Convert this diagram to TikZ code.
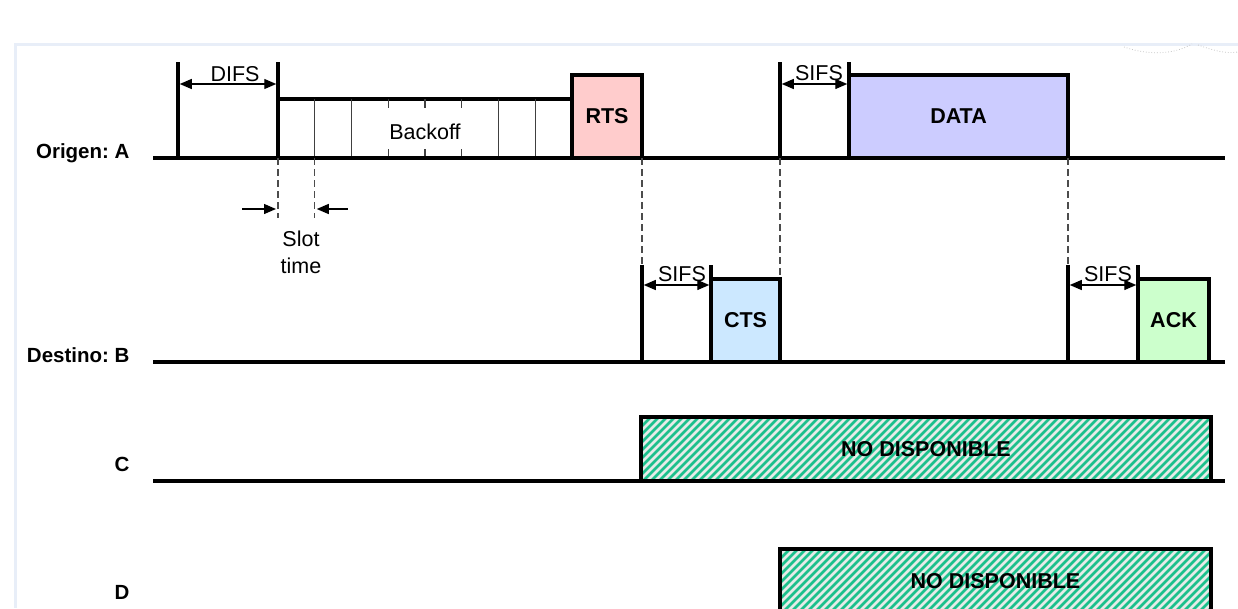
\documentclass[tikz,border=0pt]{standalone}
\usepackage{fontspec}
\setmainfont{Liberation Sans}
\usetikzlibrary{arrows.meta,positioning,calc}
\frenchspacing

\definecolor{rtsfill}{HTML}{FFCCCC}
\definecolor{datafill}{HTML}{CCCCFF}
\definecolor{ctsfill}{HTML}{CCE8FF}
\definecolor{ackfill}{HTML}{CCFFCC}
\definecolor{hatchgreen}{HTML}{1CC08C}
\definecolor{hatchbg}{HTML}{E6EBE8}
\definecolor{framegray}{HTML}{E8EEF8}

\begin{document}
\begin{tikzpicture}[
  x=1pt, y=-1pt,
  font=\fontsize{21.5}{25}\selectfont,
  rowline/.style={line width=3.5pt},
  tickline/.style={line width=3.5pt},
  span/.style={{Triangle[length=12pt,width=10pt]}-{Triangle[length=12pt,width=10pt]},
               line width=1.3pt, shorten <=1.75pt, shorten >=1.75pt},
  pointer/.style={-{Triangle[length=12pt,width=10pt]}, line width=1.3pt},
  guide/.style={dash pattern=on 7pt off 4pt, line width=1.3pt, black!70},
  slotline/.style={line width=1.2pt, black!75},
  pkt/.style={rectangle, draw, line width=3.5pt, inner sep=0pt, outer sep=0pt,
              font=\fontsize{21.5}{25}\selectfont\bfseries},
  busy/.style={pkt, fill=hatchbg, path picture={
      \foreach \i in {0,...,80}
        \draw[hatchgreen, line width=2.6pt]
          ($(path picture bounding box.south west)+(\i*8-70,0)$) -- ++(70,-70);}},
  station/.style={anchor=base east, font=\fontsize{20.5}{24}\selectfont\bfseries},
  tlabel/.style={anchor=base},
]
  \useasboundingbox (0,0) rectangle (1238,608);
  \clip (0,0) rectangle (1238,608);

  % page frame
  \draw[framegray, line width=3pt] (15,608) -- (15,44) -- (1238,44);
  \draw[gray!45, dotted, line width=0.8pt]
       (1124,47) .. controls (1150,56) and (1175,54) .. (1192,44);
  \draw[gray!45, dotted, line width=0.8pt]
       (1198,45) .. controls (1212,50) and (1225,54) .. (1238,52);

  % time lines
  \coordinate (A0) at (153,158); \coordinate (A1) at (1225,158);
  \coordinate (B0) at (153,362); \coordinate (B1) at (1225,362);
  \coordinate (C0) at (153,481); \coordinate (C1) at (1225,481);

  \node[station] (labA) at (133,158) {Origen: A};
  \node[station] (labB) at (133,362) {Destino: B};
  \node[station] (labC) at (133,471) {C};
  \node[station] (labD) at (133,599) {D};

  % ORIGEN A: DIFS, backoff, RTS, SIFS, DATA
  \node[minimum width=294pt, minimum height=59pt, inner sep=0pt, outer sep=0pt]
       (backoff) at (425,128.5) {};
  \node[tlabel] (bolabel) at (425,139) {Backoff};
  \node[pkt, fill=rtsfill, minimum width=70pt, minimum height=83pt]
       (rts) at (607,116.5) {RTS};
  \node[pkt, fill=datafill, minimum width=219pt, minimum height=83pt]
       (data) at (958.5,116.5) {DATA};

  \draw[rowline] (backoff.north west) -- (backoff.north east);
  \foreach \k in {1,2,6,7}
    \draw[slotline] ($(backoff.north west)!\k/8!(backoff.north east)$) -- ++(0,59);
  \foreach \k in {3,4,5} {
    \draw[slotline] ($(backoff.north west)!\k/8!(backoff.north east)$) -- ++(0,9);
    \draw[slotline] ($(backoff.south west)!\k/8!(backoff.south east)$) -- ++(0,-9);
  }

  \coordinate (difsL) at (178,62);
  \coordinate (difsR) at (278,62);
  \coordinate (sifsA) at (780,62);
  \coordinate (dataL) at (849,62);
  \foreach \m in {difsL,difsR,sifsA,dataL}
    \draw[tickline] (\m) -- (\m |- A0);

  \draw[span] ($(difsL)+(0,22)$) -- ($(difsR)+(0,22)$);
  \node[tlabel] (difs) at (235,81) {DIFS};
  \draw[span] ($(sifsA)+(0,22)$) -- ($(dataL)+(0,22)$);
  \node[tlabel] (sifs1) at (819,80) {SIFS};

  \draw[rowline] (A0) -- (A1);

  % slot time
  \coordinate (slot0) at (backoff.south west);
  \coordinate (slot1) at ($(backoff.south west)!1/8!(backoff.south east)$);
  \draw[guide] (slot0) -- ++(0,60);
  \draw[guide] (slot1) -- ++(0,60);
  \draw[pointer] ($(slot0)+(-36,51)$) -- ($(slot0)+(-2,51)$);
  \draw[pointer] ($(slot1)+(33,51)$) -- ($(slot1)+(2,51)$);
  \node[align=center, font=\fontsize{21.5}{27}\selectfont] (slottxt) at (301,252)
       {Slot\\time};

  % DESTINO B: SIFS, CTS, SIFS, ACK
  \node[pkt, fill=ctsfill, minimum width=69pt, minimum height=83pt]
       (cts) at (745.5,320.5) {CTS};
  \node[pkt, fill=ackfill, minimum width=71pt, minimum height=83pt]
       (ack) at (1173.5,320.5) {ACK};

  \coordinate (sifsB1) at (642,265);
  \coordinate (ctsL) at (711,265);
  \coordinate (sifsB2) at (1068,265);
  \coordinate (ackL) at (1138,265);
  \foreach \m in {sifsB1,ctsL,sifsB2,ackL}
    \draw[tickline] (\m) -- (\m |- B0);

  \draw[span] ($(sifsB1)+(0,20)$) -- ($(ctsL)+(0,20)$);
  \node[tlabel] (sifs2) at (682,281) {SIFS};
  \draw[span] ($(sifsB2)+(0,20)$) -- ($(ackL)+(0,20)$);
  \node[tlabel] (sifs3) at (1108,281) {SIFS};

  \draw[rowline] (B0) -- (B1);

  % guides A -> B
  \draw[guide] (rts.south east) -- (sifsB1);
  \draw[guide] (sifsA |- A0) -- (cts.north east);
  \draw[guide] (data.south east) -- (sifsB2);

  % C and D: medium not available
  \node[busy, minimum width=570pt, minimum height=64pt] (navC) at (926,449)
       {NO DISPONIBLE};
  \node[busy, minimum width=431pt, minimum height=64pt] (navD) at (995.5,581)
       {NO DISPONIBLE};
  \draw[rowline] (C0) -- (C1);

\end{tikzpicture}
\end{document}
